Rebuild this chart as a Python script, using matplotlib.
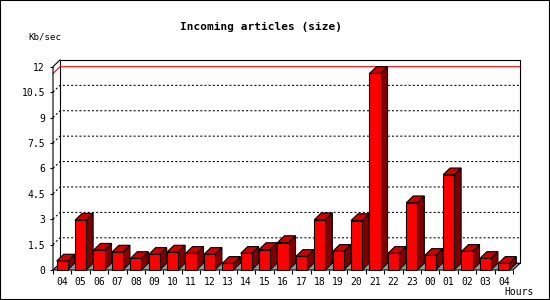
import matplotlib
matplotlib.use("Agg")
import matplotlib.pyplot as plt
from matplotlib.patches import Polygon, Rectangle

hours = ["04", "05", "06", "07", "08", "09", "10", "11", "12", "13", "14", "15",
         "16", "17", "18", "19", "20", "21", "22", "23", "00", "01", "02", "03", "04"]
kb_per_sec = [0.53, 2.94, 1.17, 1.06, 0.68, 0.92, 1.06, 0.98, 0.92, 0.39, 0.98, 1.21,
              1.62, 0.80, 2.97, 1.10, 2.92, 11.6, 0.98, 3.97, 0.86, 5.62, 1.10, 0.68, 0.39]
y_ticks = [0, 1.5, 3, 4.5, 6, 7.5, 9, 10.5, 12]
y_tick_labels = ["0", "1.5", "3", "4.5", "6", "7.5", "9", "10.5", "12"]

# 3d depth, in data units (about 7 px each way)
DX = 0.38
DY = 0.40
BAR_W = 0.6

plt.rcParams['font.family'] = ['DejaVu Sans Mono']

fig = plt.figure(figsize=(5.5, 3), dpi=100)
ax = fig.add_axes([53 / 550, 30 / 300, 460 / 550, 203.3 / 300])
n = len(hours)
ymax = y_ticks[-1]
ax.set_xlim(0, n)
ax.set_ylim(0, ymax)
for s in ax.spines.values():
    s.set_visible(False)
ax.patch.set_visible(False)

edge = dict(edgecolor='black', linewidth=0.8, clip_on=False)

# back wall and floor
ax.add_patch(Rectangle((DX, DY), n, ymax, facecolor='white', zorder=1, **edge))
ax.add_patch(Polygon([(0, 0), (n, 0), (n + DX, DY), (DX, DY)], closed=True,
                     facecolor='#999999', zorder=2, **edge))
# left side wall
ax.plot([0, 0, DX], [0, ymax, ymax + DY], color='black', lw=0.8, clip_on=False, zorder=2)

# dotted grid on back wall
for v in y_ticks[1:-1]:
    ax.plot([0, DX, n + DX], [v + 0.0, v + DY, v + DY], color='black', lw=0.75,
            dashes=(2, 2), clip_on=False, zorder=1.5)

# peak line
peak = max(kb_per_sec)
ax.plot([0, DX, n + DX], [peak, peak + DY, peak + DY], color='#ff0000', lw=0.8,
        clip_on=False, zorder=1.6)

# bars
for i, v in enumerate(kb_per_sec):
    x0 = i + 0.2
    x1 = x0 + BAR_W
    ax.add_patch(Polygon([(x1, 0), (x1 + DX, DY), (x1 + DX, v + DY), (x1, v)],
                         closed=True, facecolor='#800000', zorder=3, **edge))
    ax.add_patch(Polygon([(x0, v), (x1, v), (x1 + DX, v + DY), (x0 + DX, v + DY)],
                         closed=True, facecolor='#cc0000', zorder=3, **edge))
    ax.add_patch(Rectangle((x0, 0), BAR_W, v, facecolor='#ff0000', zorder=4, **edge))

ax.set_yticks(y_ticks, y_tick_labels)
ax.tick_params(axis='y', length=2.2, width=0.8, pad=3.5, labelsize=7)
ax.set_xticks([i + 0.5 for i in range(n)], hours)
ax.set_xticks(range(n + 1), minor=True)
ax.tick_params(axis='x', which='major', length=0, pad=5, labelsize=7)
ax.tick_params(axis='x', which='minor', length=3, width=0.8)

fig.text(261 / 550, 1 - 26.7 / 300, "Incoming articles (size)", ha='center', va='center',
         fontsize=8, fontweight='bold')
fig.text(28 / 550, 1 - 36.7 / 300, "Kb/sec", ha='left', va='center', fontsize=6.6)
fig.text(534 / 550, 1 - 291.7 / 300, "Hours", ha='right', va='center', fontsize=7)

fig.add_artist(Rectangle((0, 0), 1, 1, transform=fig.transFigure, fill=False,
                         edgecolor='black', linewidth=1.5))

fig.savefig("out.png", dpi=100)
